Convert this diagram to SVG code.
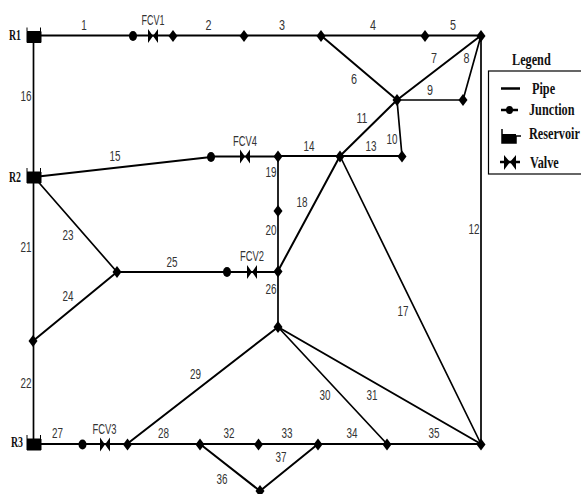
<svg xmlns="http://www.w3.org/2000/svg" width="581" height="494" viewBox="0 0 581 494">
<style>
.p{stroke:#000;stroke-width:2;fill:none}
.t{stroke:#000;stroke-width:1.700;fill:none}
.l{font:14px "Liberation Sans",Arial,sans-serif;fill:#333;text-anchor:middle}
.r{font:bold 14px "Liberation Serif",serif;fill:#111;text-anchor:middle}
.k{font:bold 17px "Liberation Serif",serif;fill:#111}
</style>
<defs>
<path id="d" d="M0-6 4.500 0 0 6-4.500 0Z" fill="#000"/>
<ellipse id="c" rx="4" ry="5" fill="#000"/>
<path id="b" d="M-5-7V7L0 0ZM5-7V7L0 0Z" fill="#000"/>
<path id="s" d="M-7-5H7V6H-7ZM-7-9V-5M6.500-9V-5" fill="#000" stroke="#000" stroke-width="1"/>
</defs>
<g id="connectors">
<path class="p" d="M34 35.500H481M321 35.500 397 100 481 35.500M397 100 340 156M402 156H278M340 156 278 271M34 177 211 157M211 156.500H278M117 272 33 341M117 272H278M34 444H481M127 444 278 327M278 327 481 444M200 444 260 491 318 444"/>
<path class="t" d="M397 100H463L481 35.500M397 100 402 156M340 156 481 444M481 35.500V444M33.500 35.500V444M34 177 117 272M278 156.500V327M278 327 387 444"/>
</g>
<g id="R1"><use href="#s" x="34" y="36.500"/><text class="r" x="15" y="40" textLength="12" lengthAdjust="spacingAndGlyphs">R1</text></g>
<g id="R2"><use href="#s" x="34" y="177"/><text class="r" x="15" y="182" textLength="12" lengthAdjust="spacingAndGlyphs">R2</text></g>
<g id="R3"><use href="#s" x="34" y="444"/><text class="r" x="17" y="447" textLength="12" lengthAdjust="spacingAndGlyphs">R3</text></g>
<g id="J1"><use href="#c" x="133" y="36"/></g>
<g id="J2"><use href="#d" x="173" y="36"/></g>
<g id="J3"><use href="#d" x="244" y="36"/></g>
<g id="J4"><use href="#d" x="321" y="36"/></g>
<g id="J5"><use href="#d" x="425" y="36"/></g>
<g id="J6"><use href="#d" x="481" y="36"/></g>
<g id="J7"><use href="#d" x="397" y="100"/></g>
<g id="J8"><use href="#d" x="463" y="100"/></g>
<g id="J9"><use href="#d" x="402" y="156.500"/></g>
<g id="J10"><use href="#d" x="340" y="156.500"/></g>
<g id="J11"><use href="#d" x="278" y="156.500"/></g>
<g id="J12"><use href="#c" x="211" y="157"/></g>
<g id="J13"><use href="#d" x="278" y="211"/></g>
<g id="J14"><use href="#d" x="278" y="271.500"/></g>
<g id="J15"><use href="#c" x="227" y="272"/></g>
<g id="J16"><use href="#d" x="117" y="272"/></g>
<g id="J17"><use href="#d" x="33" y="341"/></g>
<g id="J18"><use href="#d" x="278" y="327"/></g>
<g id="J19"><use href="#c" x="82.500" y="444.500"/></g>
<g id="J20"><use href="#d" x="127.500" y="444.500"/></g>
<g id="J21"><use href="#d" x="200" y="444.500"/></g>
<g id="J22"><use href="#d" x="258.500" y="444.500"/></g>
<g id="J23"><use href="#d" x="318" y="444.500"/></g>
<g id="J24"><use href="#d" x="387" y="444.500"/></g>
<g id="J25"><use href="#d" x="481" y="444.500"/></g>
<g id="J26"><use href="#d" x="260" y="491"/></g>
<g id="FCV1"><use href="#b" x="153" y="36"/><text class="l" x="153" y="25" textLength="23" lengthAdjust="spacingAndGlyphs">FCV1</text></g>
<g id="FCV4"><use href="#b" x="245" y="156.500"/><text class="l" x="245" y="146" textLength="24" lengthAdjust="spacingAndGlyphs">FCV4</text></g>
<g id="FCV2"><use href="#b" x="252" y="272"/><text class="l" x="252" y="261" textLength="24" lengthAdjust="spacingAndGlyphs">FCV2</text></g>
<g id="FCV3"><use href="#b" x="105" y="444.500"/><text class="l" x="104.500" y="434" textLength="24" lengthAdjust="spacingAndGlyphs">FCV3</text></g>
<g id="labels">
<text class="l" x="84" y="30" textLength="5.500" lengthAdjust="spacingAndGlyphs">1</text>
<text class="l" x="208.500" y="30" textLength="6" lengthAdjust="spacingAndGlyphs">2</text>
<text class="l" x="282" y="30" textLength="6" lengthAdjust="spacingAndGlyphs">3</text>
<text class="l" x="373" y="30" textLength="6" lengthAdjust="spacingAndGlyphs">4</text>
<text class="l" x="453" y="30" textLength="6" lengthAdjust="spacingAndGlyphs">5</text>
<text class="l" x="354" y="84" textLength="6" lengthAdjust="spacingAndGlyphs">6</text>
<text class="l" x="434" y="63" textLength="6" lengthAdjust="spacingAndGlyphs">7</text>
<text class="l" x="466.500" y="63" textLength="6" lengthAdjust="spacingAndGlyphs">8</text>
<text class="l" x="430" y="95" textLength="6" lengthAdjust="spacingAndGlyphs">9</text>
<text class="l" x="392" y="144" textLength="11" lengthAdjust="spacingAndGlyphs">10</text>
<text class="l" x="362" y="123" textLength="11" lengthAdjust="spacingAndGlyphs">11</text>
<text class="l" x="474" y="234" textLength="11" lengthAdjust="spacingAndGlyphs">12</text>
<text class="l" x="371" y="151" textLength="11" lengthAdjust="spacingAndGlyphs">13</text>
<text class="l" x="309" y="151" textLength="11" lengthAdjust="spacingAndGlyphs">14</text>
<text class="l" x="115" y="161" textLength="11" lengthAdjust="spacingAndGlyphs">15</text>
<text class="l" x="26" y="101" textLength="11" lengthAdjust="spacingAndGlyphs">16</text>
<text class="l" x="403" y="316" textLength="11" lengthAdjust="spacingAndGlyphs">17</text>
<text class="l" x="302" y="207" textLength="11" lengthAdjust="spacingAndGlyphs">18</text>
<text class="l" x="271" y="177" textLength="11" lengthAdjust="spacingAndGlyphs">19</text>
<text class="l" x="271" y="235" textLength="11" lengthAdjust="spacingAndGlyphs">20</text>
<text class="l" x="26" y="252" textLength="11" lengthAdjust="spacingAndGlyphs">21</text>
<text class="l" x="26" y="388" textLength="11" lengthAdjust="spacingAndGlyphs">22</text>
<text class="l" x="68" y="240" textLength="11" lengthAdjust="spacingAndGlyphs">23</text>
<text class="l" x="68" y="301" textLength="11" lengthAdjust="spacingAndGlyphs">24</text>
<text class="l" x="172" y="267" textLength="11" lengthAdjust="spacingAndGlyphs">25</text>
<text class="l" x="271" y="294" textLength="11" lengthAdjust="spacingAndGlyphs">26</text>
<text class="l" x="57.500" y="438" textLength="11" lengthAdjust="spacingAndGlyphs">27</text>
<text class="l" x="163.500" y="438" textLength="11" lengthAdjust="spacingAndGlyphs">28</text>
<text class="l" x="195.500" y="379" textLength="11" lengthAdjust="spacingAndGlyphs">29</text>
<text class="l" x="325" y="400" textLength="11" lengthAdjust="spacingAndGlyphs">30</text>
<text class="l" x="372" y="400" textLength="11" lengthAdjust="spacingAndGlyphs">31</text>
<text class="l" x="229" y="438" textLength="11" lengthAdjust="spacingAndGlyphs">32</text>
<text class="l" x="287" y="438" textLength="11" lengthAdjust="spacingAndGlyphs">33</text>
<text class="l" x="352" y="438" textLength="11" lengthAdjust="spacingAndGlyphs">34</text>
<text class="l" x="434" y="438" textLength="11" lengthAdjust="spacingAndGlyphs">35</text>
<text class="l" x="222" y="484" textLength="11" lengthAdjust="spacingAndGlyphs">36</text>
<text class="l" x="281" y="462" textLength="11" lengthAdjust="spacingAndGlyphs">37</text>
</g>
<g id="legend">
<text class="k" transform="translate(512 65) scale(.72 1)">Legend</text>
<rect x="488.500" y="71" width="100" height="103" fill="none" stroke="#000" stroke-width="1.200"/>
<path d="M501 88.500H520" stroke="#000" stroke-width="2.500"/>
<text class="k" transform="translate(532 94) scale(.72 1)">Pipe</text>
<path d="M501 110H518" stroke="#000" stroke-width="2.500"/><ellipse cx="509.500" cy="110" rx="3.500" ry="4" fill="#000"/>
<text class="k" transform="translate(529 115) scale(.72 1)">Junction</text>
<path d="M502 129V143H516V136H521" stroke="#000" stroke-width="1.500" fill="none"/><path d="M502 134H516V143H502Z" fill="#000"/>
<text class="k" transform="translate(529 139) scale(.72 1)">Reservoir</text>
<path d="M500 162H520" stroke="#000" stroke-width="2.500"/><path d="M504 155 510 162 516 155V170L510 162 504 170Z" fill="#000"/>
<text class="k" transform="translate(530 168) scale(.72 1)">Valve</text>
</g>
</svg>
